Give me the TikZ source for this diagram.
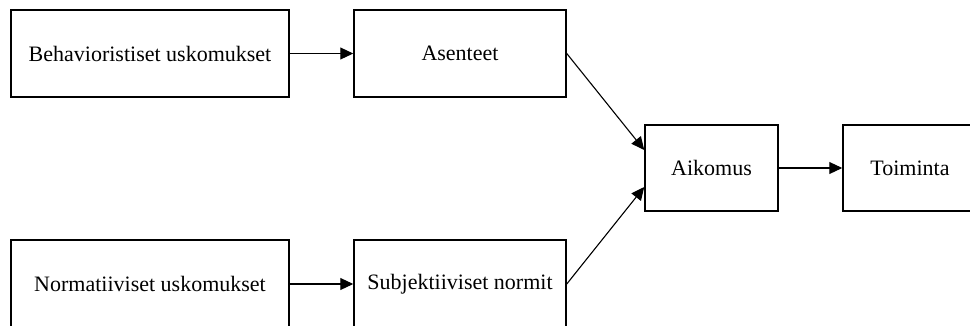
\documentclass[tikz,border=0pt]{standalone}
\usepackage{fontspec}
\setmainfont{Liberation Serif}
\usetikzlibrary{arrows.meta}
\begin{document}
\begin{tikzpicture}[x=1pt,y=-1pt,
  box/.style={draw,line width=1.5pt,rectangle,inner sep=0pt,
    font=\fontsize{22}{26}\selectfont},
  link/.style={line width=1.1pt,-{Triangle[length=13pt,width=12pt]}}]
  \clip (0,0) rectangle (970,325);
  \fill[white] (0,0) rectangle (970,325);
  % belief boxes (left column)
  \node[box,minimum width=278pt,minimum height=87pt] (beh) at (150,53.5) {Behavioristiset uskomukset};
  \node[box,minimum width=278pt,minimum height=88pt] (norm) at (150,284) {Normatiiviset uskomukset};
  % attitude and norm boxes (middle column)
  \node[box,minimum width=212pt,minimum height=87pt] (ase) at (460,53.5) {Asenteet};
  \node[box,minimum width=212pt,minimum height=88pt] (sub) at (460,284) {Subjektiiviset normit};
  % intention and behaviour
  \node[box,minimum width=133pt,minimum height=86pt] (aik) at (711.5,168) {Aikomus};
  \node[box,minimum width=134pt,minimum height=86pt] (toi) at (910,168) {Toiminta};
  % connectors
  \draw[link] (beh.east) -- (ase.west);
  \draw[link] (norm.east |- sub.west) -- (sub.west);
  \draw[link] (ase.east) -- ([yshift=18pt]aik.west);
  \draw[link] (sub.east) -- ([yshift=-19pt]aik.west);
  \draw[link] (aik.east) -- (toi.west);
\end{tikzpicture}
\end{document}
